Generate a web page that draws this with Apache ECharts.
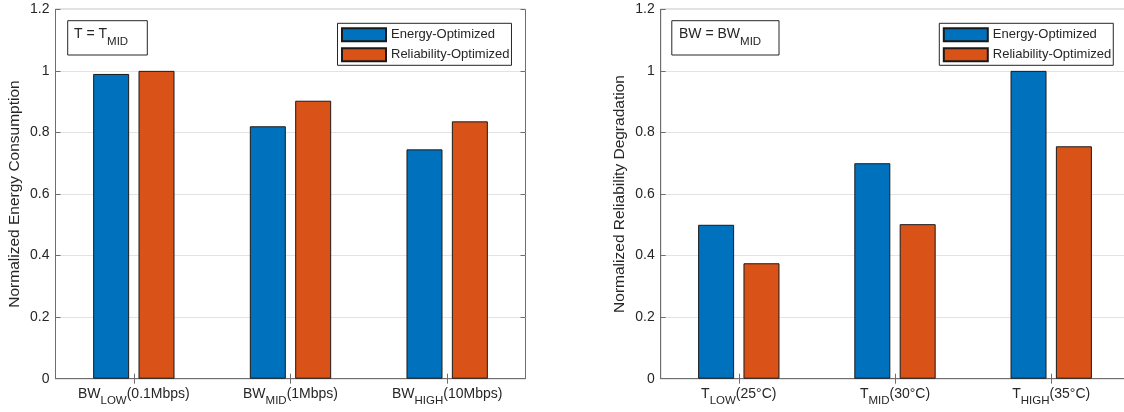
<!DOCTYPE html>
<html>
<head>
<meta charset="utf-8">
<script src="https://cdn.jsdelivr.net/npm/echarts@6/dist/echarts.min.js"></script>
<style>
  html, body { margin: 0; padding: 0; background: #fff; overflow: hidden; }
  #chart { width: 1124px; height: 412px; }
</style>
</head>
<body>
<div id="chart"></div>
<script>
// Bandwidth sweep at T = T_MID (left panel)
const bandwidthCategories = ['BW_{LOW}(0.1Mbps)', 'BW_{MID}(1Mbps)', 'BW_{HIGH}(10Mbps)'];
const energyOptEnergy = [0.99, 0.82, 0.745];
const reliabilityOptEnergy = [1.0, 0.903, 0.836];

// Temperature sweep at BW = BW_MID (right panel)
const temperatureCategories = ['T_{LOW}(25°C)', 'T_{MID}(30°C)', 'T_{HIGH}(35°C)'];
const energyOptReliability = [0.5, 0.70, 1.0];
const reliabilityOptReliability = [0.375, 0.502, 0.755];

const seriesNames = ['Energy-Optimized', 'Reliability-Optimized'];
const yTicks = { min: 0, max: 1.2, interval: 0.2 };
const panelNotes = ['T = T_{MID}', 'BW = BW_{MID}'];
const yAxisNames = ['Normalized Energy Consumption', 'Normalized Reliability Degradation'];

const FONT = "'Liberation Sans', Arial, Helvetica, sans-serif";
const TEXT = '#262626';
const AXIS = '#6e6e6e';
const BLUE = '#0072BD';
const ORANGE = '#D95319';

// turn "X_{sub}rest" into rich-text tokens
function toRich(s) {
  return s.replace(/^(.*?)_\{(.+?)\}(.*)$/, (m, a, b, c) =>
    '{m|' + a + '}{s|' + b + '}' + (c ? '{m|' + c + '}' : ''));
}

// main text hangs from the top of the line box, the subscript sits on its bottom
const labelRich = {
  m: { fontSize: 14, color: TEXT, fontFamily: FONT, lineHeight: 14, verticalAlign: 'top' },
  s: { fontSize: 11.5, color: TEXT, fontFamily: FONT, lineHeight: 20, verticalAlign: 'bottom' }
};

const grids = [
  { left: 55.5, top: 9.3, width: 470, height: 369.4 },
  { left: 660.7, top: 9.3, width: 468.6, height: 369.4 }
];

const xAxes = [], yAxes = [];
[bandwidthCategories, temperatureCategories].forEach((cats, i) => {
  xAxes.push({
    gridIndex: i, type: 'category', data: cats, position: 'bottom', boundaryGap: true,
    axisLine: { show: true, lineStyle: { color: AXIS, width: 1 } },
    axisTick: { show: true, inside: true, alignWithLabel: true, length: 5, lineStyle: { color: AXIS } },
    axisLabel: { interval: 0, margin: 8.5, formatter: v => toRich(v), rich: labelRich }
  });
  xAxes.push({
    gridIndex: i, type: 'category', data: cats, position: 'top', boundaryGap: true,
    axisLine: { show: false },
    axisTick: { show: true, inside: true, alignWithLabel: true, length: 5, lineStyle: { color: AXIS } },
    axisLabel: { show: false }
  });
  yAxes.push({
    gridIndex: i, type: 'value', min: yTicks.min, max: yTicks.max, interval: yTicks.interval,
    position: 'left',
    name: yAxisNames[i], nameLocation: 'middle', nameGap: 33,
    nameTextStyle: { fontSize: 15.5, color: TEXT, fontFamily: FONT },
    axisLine: { show: true, lineStyle: { color: AXIS, width: 1 } },
    axisTick: { show: true, inside: true, length: 5, lineStyle: { color: AXIS } },
    axisLabel: { margin: 6, fontSize: 14, color: TEXT, fontFamily: FONT },
    splitLine: { show: true, lineStyle: { color: '#e3e3e3', width: 1 } }
  });
  yAxes.push({
    gridIndex: i, type: 'value', min: yTicks.min, max: yTicks.max, interval: yTicks.interval,
    position: 'right',
    axisLine: { show: false },
    axisTick: { show: true, inside: true, length: 5, lineStyle: { color: AXIS } },
    axisLabel: { show: false },
    splitLine: { show: false }
  });
});

function barSeries(name, data, axisIdx, color) {
  return {
    name, type: 'bar', data,
    xAxisIndex: axisIdx, yAxisIndex: axisIdx,
    barWidth: 36, barGap: '26%',
    itemStyle: { color, borderColor: '#1a1a1a', borderWidth: 1 }
  };
}

const legendBase = {
  orient: 'vertical', top: 23.3, icon: 'rect',
  itemWidth: 44, itemHeight: 13, itemGap: 5,
  padding: [4, 2, 3, 3.5],
  borderColor: '#262626', borderWidth: 1, backgroundColor: '#fff',
  textStyle: { fontSize: 13, color: TEXT, fontFamily: FONT },
  data: seriesNames
};

const noteBoxes = [
  { x: 67.7, w: 79.6, tx: 74 },
  { x: 671.8, w: 107.2, tx: 679 }
];

const noteRich = {
  m: { fontSize: 14, fill: TEXT, fontFamily: FONT, lineHeight: 14, verticalAlign: 'top' },
  s: { fontSize: 11.5, fill: TEXT, fontFamily: FONT, lineHeight: 20, verticalAlign: 'bottom' }
};

const graphics = [];
noteBoxes.forEach((b, i) => {
  graphics.push({
    type: 'rect', z: 100,
    shape: { x: b.x, y: 20.7, width: b.w, height: 34.3 },
    style: { fill: '#fff', stroke: '#262626', lineWidth: 1 }
  });
  graphics.push({
    type: 'text', z: 101, x: b.tx, y: 27.5,
    style: { text: toRich(panelNotes[i]), rich: noteRich, fontFamily: FONT, fontSize: 14, fill: TEXT }
  });
});

const chart = echarts.init(document.getElementById('chart'), null, { renderer: 'canvas' });
chart.setOption({
  animation: false,
  backgroundColor: '#fff',
  textStyle: { fontFamily: FONT },
  grid: grids.map(g => Object.assign({
    show: true, borderColor: AXIS, borderWidth: 1, backgroundColor: 'transparent',
    containLabel: false, outerBoundsMode: 'none'
  }, g)),
  xAxis: xAxes,
  yAxis: yAxes,
  legend: [
    Object.assign({ left: 337.5 }, legendBase),
    Object.assign({ left: 939.3 }, legendBase)
  ],
  series: [
    barSeries(seriesNames[0], energyOptEnergy, 0, BLUE),
    barSeries(seriesNames[1], reliabilityOptEnergy, 0, ORANGE),
    barSeries(seriesNames[0], energyOptReliability, 2, BLUE),
    barSeries(seriesNames[1], reliabilityOptReliability, 2, ORANGE)
  ],
  graphic: graphics
});
</script>
</body>
</html>
